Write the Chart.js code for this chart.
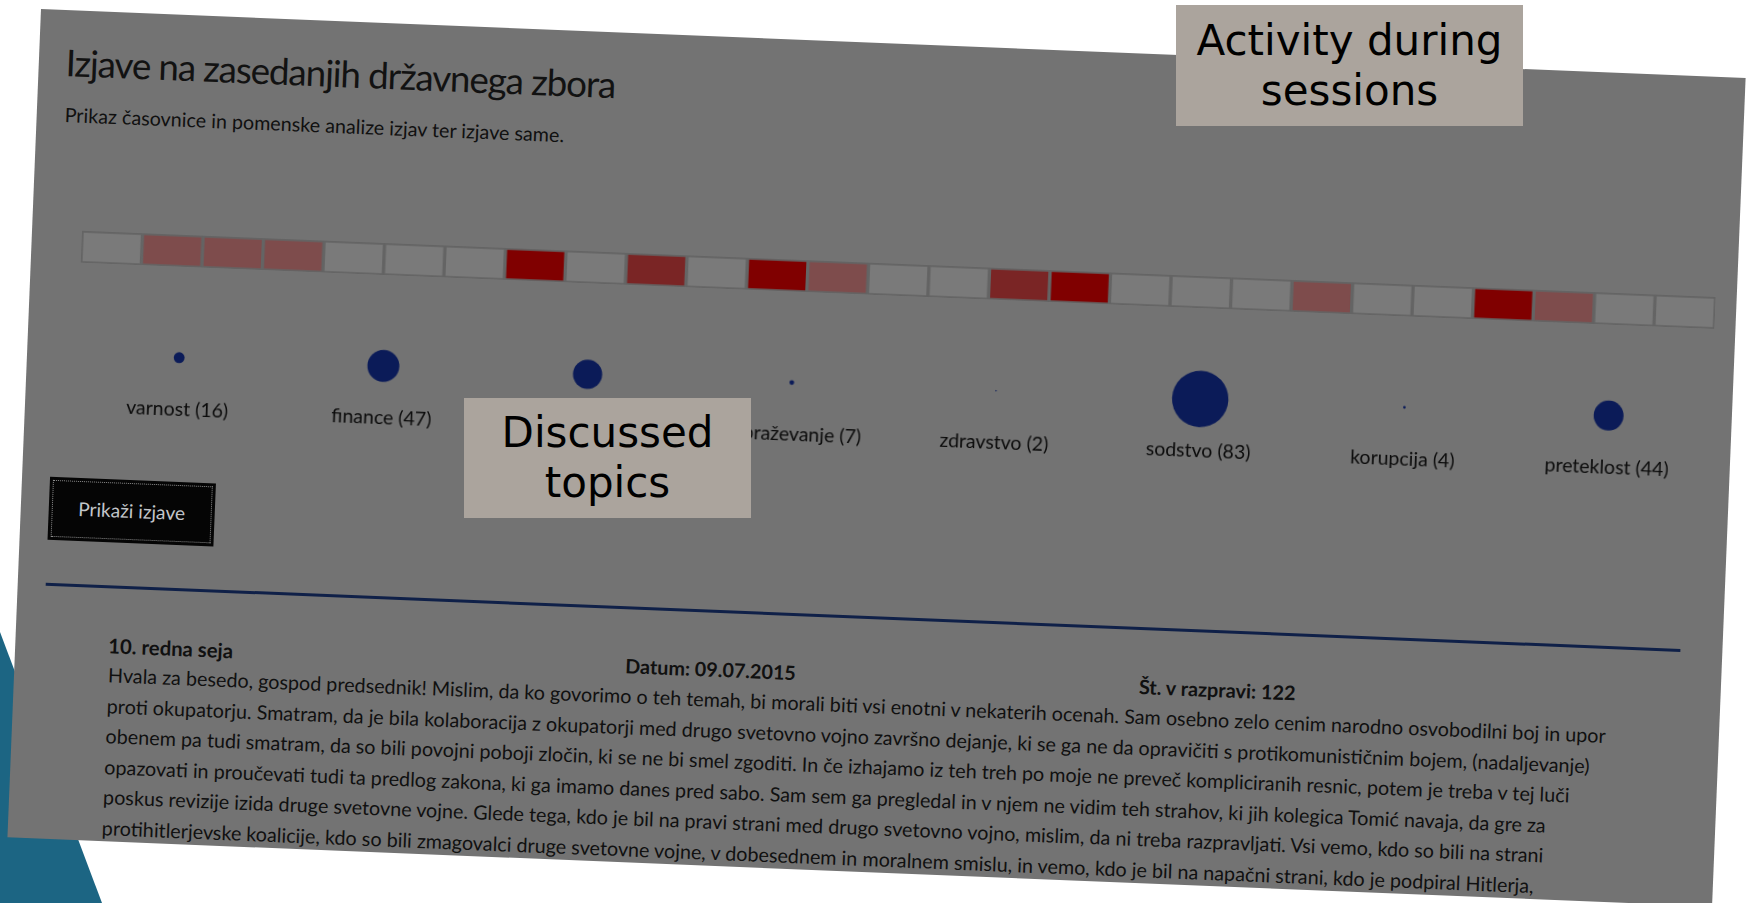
<!DOCTYPE html>
<html>
<head>
<meta charset="utf-8">
<script src="https://cdn.jsdelivr.net/npm/chart.js@4.4.1/dist/chart.umd.min.js"></script>
<style>
  body { margin: 0; width: 1750px; height: 903px; overflow: hidden; background: #fff; position: relative; font-family: Lato, sans-serif; }
  #teal { position: absolute; left: 0; top: 0; width: 1750px; height: 903px; background: #1c6583;
          clip-path: polygon(0 632px, 102px 903px, 0 903px); }
  #page { position: absolute; left: 41px; top: 9px; width: 1706px; height: 829px; background: #737373;
          transform: rotate(2.32deg); transform-origin: 0 0; }
  .t { position: absolute; white-space: nowrap; line-height: 1; color: #101010; }
  .b { font-weight: 700; }
  #btn { position: absolute; left: 28px; top: 467px; width: 166px; height: 63px; background: #050505;
         outline: 1px dotted #8c8c8c; outline-offset: -4px; }
  #hr { position: absolute; left: 28px; top: 573px; width: 1636px; height: 3px; background: #0f2048; }
  #strip { position: absolute; left: 50px; top: 220px; }
  #topics { position: absolute; left: 50px; top: 297px; }
  .note { position: absolute; background: #aba49d; color: #000; font-family: "DejaVu Sans", sans-serif;
          font-size: 42px; line-height: 50px; text-align: center; display: flex; align-items: center; justify-content: center; }
</style>
</head>
<body>
<div id="teal"></div>
<div id="page">
  <div class="t" data-x="27" data-base="67" data-w="550" style="color:#121212;letter-spacing:-0.03em">Izjave na zasedanjih državnega zbora</div>
  <div class="t" data-x="28" data-base="112" data-w="500">Prikaz časovnice in pomenske analize izjav ter izjave same.</div>

  <canvas id="strip" width="1635" height="32"></canvas>
  <canvas id="topics" width="1635" height="113"></canvas>

  <div id="btn"></div>
  <div class="t" data-cx="111" data-base="505" data-w="107" style="color:#c3c6ca">Prikaži izjave</div>

  <div id="hr"></div>

  <div class="t b" data-x="93" data-base="641" data-w="125">10. redna seja</div>
  <div class="t b" data-cx="696" data-base="641" data-w="171">Datum: 09.07.2015</div>
  <div class="t b" data-cx="1203" data-base="641" data-w="157">Št. v razpravi: 122</div>

  <div class="t para" data-x="94" data-base="671" data-w="1500">Hvala za besedo, gospod predsednik! Mislim, da ko govorimo o teh temah, bi morali biti vsi enotni v nekaterih ocenah. Sam osebno zelo cenim narodno osvobodilni boj in upor</div>
  <div class="t para" data-x="94" data-base="701.5">proti okupatorju. Smatram, da je bila kolaboracija z okupatorji med drugo svetovno vojno završno dejanje, ki se ga ne da opravičiti s protikomunističnim bojem, (nadaljevanje)</div>
  <div class="t para" data-x="94" data-base="732">obenem pa tudi smatram, da so bili povojni poboji zločin, ki se ne bi smel zgoditi. In če izhajamo iz teh treh po moje ne preveč kompliciranih resnic, potem je treba v tej luči</div>
  <div class="t para" data-x="94" data-base="762.5">opazovati in proučevati tudi ta predlog zakona, ki ga imamo danes pred sabo. Sam sem ga pregledal in v njem ne vidim teh strahov, ki jih kolegica Tomić navaja, da gre za</div>
  <div class="t para" data-x="94" data-base="793">poskus revizije izida druge svetovne vojne. Glede tega, kdo je bil na pravi strani med drugo svetovno vojno, mislim, da ni treba razpravljati. Vsi vemo, kdo so bili na strani</div>
  <div class="t para" data-x="94" data-base="823.5">protihitlerjevske koalicije, kdo so bili zmagovalci druge svetovne vojne, v dobesednem in moralnem smislu, in vemo, kdo je bil na napačni strani, kdo je podpiral Hitlerja,</div>
</div>

<div class="note" style="left:1176px;top:5px;width:347px;height:121px">Activity during<br>sessions</div>
<div class="note" style="left:464px;top:398px;width:287px;height:120px">Discussed<br>topics</div>

<script>
// sessions in the timeline and how active each one was (0 = none, 3 = most)
const sessions = ["1", "2", "3", "4", "5", "6", "7", "8", "9", "10", "11", "12", "13", "14",
                  "15", "16", "17", "18", "19", "20", "21", "22", "23", "24", "25", "26", "27"];
const activity = [0, 1, 1, 1, 0, 0, 0, 3, 0, 2, 0, 3, 1, 0, 0, 2, 3, 0, 0, 0, 1, 0, 0, 3, 1, 0, 0];

// discussed topics and number of statements
const topics = ["varnost", "finance", "gospodarstvo", "izobraževanje", "zdravstvo", "sodstvo", "korupcija", "preteklost"];
const topicCounts = [16, 47, 43, 7, 2, 83, 4, 44];

const levelColors = ["#7a7a7a", "#7e4c4c", "#7a2525", "#800000"];

// fit text widths (Lato baseline sits at 0.887em with line-height 1)
function fitText() {
  let paraSize = 18;
  document.querySelectorAll(".t").forEach(el => {
    let size = 20;
    if (el.dataset.w) {
      el.style.fontSize = "20px";
      size = 20 * (+el.dataset.w) / el.offsetWidth;
      if (el.classList.contains("para")) paraSize = size;
    } else if (el.classList.contains("para")) {
      size = paraSize;
    }
    el.style.fontSize = size + "px";
    el.style.top = (+el.dataset.base - 0.887 * size) + "px";
    if (el.dataset.cx) el.style.left = (+el.dataset.cx - el.offsetWidth / 2) + "px";
    else el.style.left = el.dataset.x + "px";
  });
}

function drawCharts() {
  new Chart(document.getElementById("strip"), {
    type: "bar",
    data: {
      labels: sessions,
      datasets: [{
        data: activity.map(() => 1),
        backgroundColor: activity.map(v => levelColors[v]),
        borderColor: "#646464",
        borderWidth: 2,
        borderSkipped: false,
        barPercentage: 1,
        categoryPercentage: 1
      }]
    },
    options: {
      responsive: false,
      animation: false,
      layout: { padding: 0 },
      plugins: { legend: { display: false }, tooltip: { enabled: false } },
      scales: {
        x: { display: false },
        y: { display: false, min: 0, max: 1 }
      }
    }
  });

  const topicLabels = topics.map((t, i) => `${t} (${topicCounts[i]})`);
  new Chart(document.getElementById("topics"), {
    type: "bubble",
    data: {
      labels: topicLabels,
      datasets: [{
        data: topicCounts.map((c, i) => ({ x: topicLabels[i], y: 0, r: c * 0.34 })),
        backgroundColor: "#0b1b58",
        borderWidth: 0,
        hoverRadius: 0,
        clip: false
      }]
    },
    options: {
      responsive: false,
      animation: false,
      layout: { padding: { top: 10 }, autoPadding: false },
      plugins: { legend: { display: false }, tooltip: { enabled: false } },
      scales: {
        x: {
          type: "category",
          offset: true,
          grid: { display: false, drawTicks: false },
          border: { display: false },
          ticks: { padding: 4, color: "#0a0a0a", font: { family: "Lato", size: 19.5 } }
        },
        y: { display: false, min: -1, max: 1 }
      }
    }
  });
}

document.fonts.ready.then(() => {
  fitText();
  drawCharts();
});
</script>
</body>
</html>
